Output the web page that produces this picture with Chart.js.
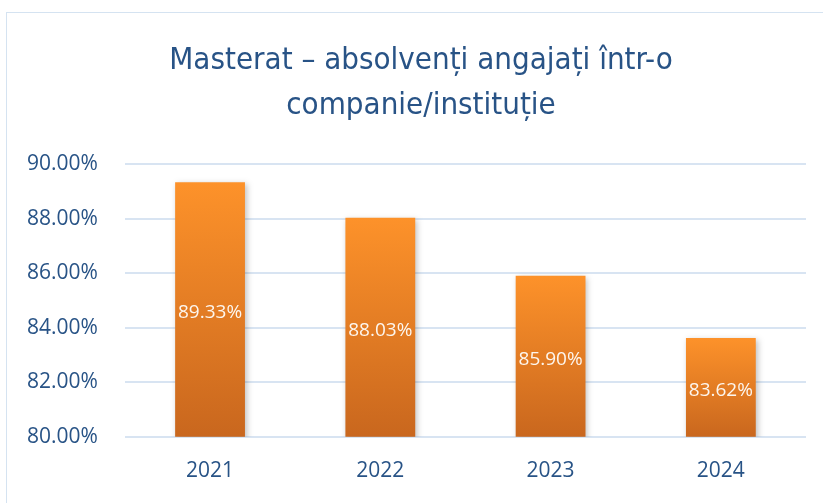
<!DOCTYPE html>
<html>
<head>
<meta charset="utf-8">
<script src="https://cdn.jsdelivr.net/npm/chart.js@4"></script>
<style>
  html, body { margin: 0; padding: 0; background: #fff; }
  #wrap { position: relative; width: 823px; height: 503px; overflow: hidden; }
  #frame { position: absolute; left: 6px; top: 12px; width: 840px; height: 520px; border: 1.5px solid #d5e3f1; }
  canvas { position: absolute; left: 0; top: 0; }
</style>
</head>
<body>
<div id="wrap">
  <div id="frame"></div>
  <canvas id="chart" width="823" height="503"></canvas>
</div>
<script>
/* date din grafic */
const ani = ["2021", "2022", "2023", "2024"];
const procente = [89.33, 88.03, 85.90, 83.62];
const titlu = ["Masterat – absolvenți angajați într-o", "companie/instituție"];
const yMin = 80;
const yMax = 90;
const yPas = 2;

const albastru = "#285386";

// gradient pe fiecare bară, de la vârf la bază
function culoareBara(context) {
  const chart = context.chart;
  const area = chart.chartArea;
  if (!area || context.dataIndex === undefined) return "#f28a25";
  const top = chart.scales.y.getPixelForValue(context.raw);
  const g = chart.ctx.createLinearGradient(0, top, 0, area.bottom);
  g.addColorStop(0, "#fd922a");
  g.addColorStop(1, "#c9671e");
  return g;
}

// umbră discretă lângă bare
const umbraBare = {
  id: "umbraBare",
  beforeDatasetsDraw(chart) {
    const ctx = chart.ctx;
    ctx.save();
    ctx.shadowColor = "rgba(0,0,0,0.25)";
    ctx.shadowBlur = 6;
    ctx.shadowOffsetX = 2;
    ctx.shadowOffsetY = 2;
  },
  afterDatasetsDraw(chart) {
    chart.ctx.restore();
  }
};

// titlul pe două rânduri, centrat pe cadrul graficului (nu pe zona cu axe)
const titluGrafic = {
  id: "titluGrafic",
  afterDraw(chart) {
    const ctx = chart.ctx;
    ctx.save();
    ctx.fillStyle = albastru;
    ctx.font = "31px 'DejaVu Sans Condensed', sans-serif";
    ctx.textAlign = "center";
    ctx.textBaseline = "middle";
    titlu.forEach((rand, i) => ctx.fillText(rand, 421, 61 + i * 45));
    ctx.restore();
  }
};

// etichete albe în mijlocul barelor
const eticheteBare = {
  id: "eticheteBare",
  afterDraw(chart) {
    const ctx = chart.ctx;
    const meta = chart.getDatasetMeta(0);
    const jos = chart.chartArea.bottom;
    ctx.save();
    ctx.fillStyle = "#fdf6ee";
    ctx.font = "19px 'Open Sans', sans-serif";
    ctx.textAlign = "center";
    ctx.textBaseline = "middle";
    meta.data.forEach((bar, i) => {
      const mid = (bar.y + jos) / 2;
      ctx.fillText(procente[i].toFixed(2) + "%", bar.x, mid + 3);
    });
    ctx.restore();
  }
};

new Chart(document.getElementById("chart"), {
  type: "bar",
  data: {
    labels: ani,
    datasets: [{
      data: procente,
      backgroundColor: culoareBara,
      borderWidth: 0,
      barPercentage: 0.41,
      categoryPercentage: 1.0
    }]
  },
  plugins: [umbraBare, titluGrafic, eticheteBare],
  options: {
    responsive: false,
    animation: false,
    layout: { padding: { top: 164, right: 17, bottom: 5, left: 0 } },
    plugins: {
      legend: { display: false },
      tooltip: { enabled: false },
      title: { display: false }
    },
    scales: {
      x: {
        grid: { display: false },
        border: { display: false },
        ticks: { color: albastru, font: { family: "'Open Sans', sans-serif", size: 21 }, padding: 14 }
      },
      y: {
        min: yMin,
        max: yMax,
        border: { display: false },
        grid: { color: "#d8e4f2", lineWidth: 2, drawTicks: false },
        ticks: {
          stepSize: yPas,
          color: albastru,
          padding: 27,
          font: { family: "'Open Sans', sans-serif", size: 21 },
          callback: (v) => v.toFixed(2) + "%"
        }
      }
    }
  }
});
</script>
</body>
</html>
